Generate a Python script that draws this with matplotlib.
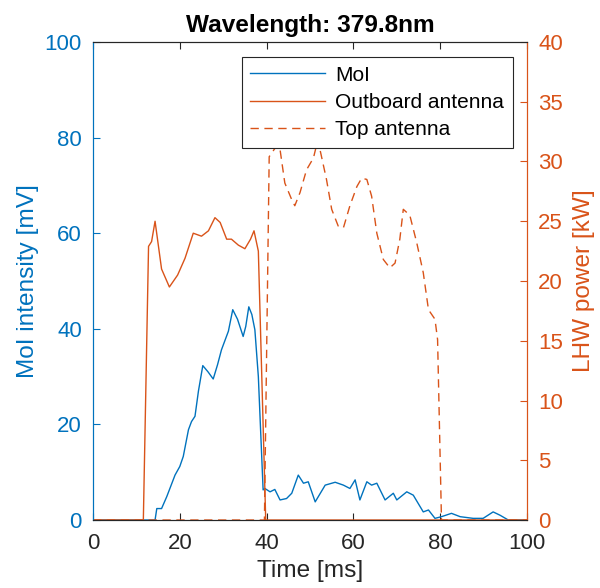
import matplotlib
matplotlib.use("Agg")
import matplotlib.pyplot as plt

plt.rcParams['font.family'] = ['Liberation Sans', 'DejaVu Sans']

# ---- data ----
moi_t = [0, 14.3, 14.7, 15.8, 17.0, 18.9, 20.0, 20.8, 22.0, 22.7, 23.5, 24.3, 25.3, 26.5,
         27.7, 28.7, 29.6, 31.2, 32.2, 33.3, 34.6, 35.2, 35.9, 36.6, 37.3, 38.1, 39.2,
         39.6, 40.8, 41.9, 43.1, 44.6, 45.8, 47.3, 48.5, 49.6, 51.2, 53.5, 55.8, 57.7,
         59.2, 60.4, 61.5, 63.1, 64.2, 65.4, 67.3, 69.2, 70.0, 72.3, 73.8, 76.1, 77.3,
         78.8, 80.3, 82.6, 84.6, 87.6, 89.9, 92.2, 93.8, 95.7, 100]
moi_v = [0, 0, 2.4, 2.4, 4.9, 9.4, 11.2, 13.3, 18.9, 20.6, 21.7, 27.0, 32.3, 31.0,
         29.5, 32.5, 35.6, 39.5, 44.0, 42.0, 38.4, 40.5, 44.6, 43.0, 39.8, 30.0, 6.3,
         6.6, 5.9, 6.4, 4.2, 4.5, 5.6, 9.4, 7.7, 8.0, 3.8, 7.3, 7.9, 7.3,
         6.6, 8.4, 4.2, 8.0, 7.3, 7.7, 4.2, 5.6, 4.2, 5.9, 5.2, 1.7, 2.1,
         0.35, 0.7, 1.4, 0.7, 0.35, 0.35, 1.7, 1.0, 0, 0]

out_t = [0, 11.6, 12.8, 13.5, 14.3, 15.8, 17.6, 19.5, 21.2, 23.1, 25.0, 26.6, 28.1,
         29.3, 30.8, 31.9, 33.5, 35.0, 36.3, 37.1, 38.1, 39.8, 100]
out_v = [0, 0, 22.9, 23.3, 25.0, 21.0, 19.5, 20.5, 21.9, 24.0, 23.75, 24.2, 25.3,
         24.9, 23.5, 23.5, 23.0, 22.7, 23.5, 24.2, 22.5, 0, 0]

top_t = [0, 39.5, 40.6, 42.3, 42.7, 43.1, 44.2, 45.8, 46.5, 47.7, 49.2, 50.8, 51.8,
         52.3, 53.8, 55.0, 56.5, 57.7, 59.2, 60.8, 61.9, 63.1, 64.2, 65.4, 66.9, 68.4,
         69.6, 70.7, 71.5, 73.0, 74.6, 76.1, 77.3, 78.8, 79.4, 80.3, 100]
top_v = [0, 0, 30.4, 31.3, 32.0, 31.0, 28.2, 26.8, 26.3, 27.4, 29.3, 30.3, 31.8,
         31.0, 28.5, 26.0, 24.6, 24.45, 26.3, 27.9, 28.6, 28.5, 27.1, 24.0, 21.8, 21.1,
         21.5, 23.5, 26.0, 25.5, 23.2, 20.7, 17.6, 16.8, 15.1, 0, 0]

x_ticks = [0, 20, 40, 60, 80, 100]
left_ticks = [0, 20, 40, 60, 80, 100]
right_ticks = [0, 5, 10, 15, 20, 25, 30, 35, 40]

blue = '#0072BD'
orange = '#D95319'
dark = '#262626'
fs_tick = 16
fs_lab = 17.6

fig = plt.figure(figsize=(6, 5.88), dpi=100)
ax = fig.add_axes([0.155, 0.1156, 0.7233, 0.813])
ax2 = ax.twinx()

l1, = ax.plot(moi_t, moi_v, color=blue, lw=1.0, label='MoI')
l2, = ax2.plot(out_t, out_v, color=orange, lw=1.0, label='Outboard antenna')
l3, = ax2.plot(top_t, top_v, color=orange, lw=1.0, ls=(0, (6, 4)), label='Top antenna')

ax.set_xlim(0, 100)
ax.set_ylim(0, 100)
ax2.set_ylim(0, 40)
ax.set_xticks(x_ticks)
ax.set_yticks(left_ticks)
ax2.set_yticks(right_ticks)

ax.tick_params(axis='x', direction='in', length=5, top=True, labelsize=fs_tick, colors=dark, pad=9)
ax.tick_params(axis='y', direction='in', length=5, labelsize=fs_tick, colors=blue, pad=8)
ax2.tick_params(axis='y', direction='in', length=5, labelsize=fs_tick, colors=orange, pad=8)

for a in (ax, ax2):
    a.spines['top'].set_color(dark)
    a.spines['bottom'].set_color(dark)
    a.spines['left'].set_color(blue)
    a.spines['right'].set_color(orange)

ax.set_xlabel('Time [ms]', fontsize=fs_lab, color=dark, labelpad=5)
ax.set_ylabel('MoI intensity [mV]', fontsize=fs_lab, color=blue, labelpad=4)
ax2.set_ylabel('LHW power [kW]', fontsize=fs_lab, color=orange, rotation=90, labelpad=7)
ax.set_title('Wavelength: 379.8nm', fontsize=fs_lab, fontweight='bold', pad=7)

leg = ax2.legend(handles=[l1, l2, l3], loc='upper right', bbox_to_anchor=(0.967, 0.968),
                 fontsize=15, frameon=True, fancybox=False, framealpha=1,
                 edgecolor=dark, handlelength=3.6, handletextpad=0.5,
                 borderpad=0.4, labelspacing=0.4, borderaxespad=0)
leg.get_frame().set_linewidth(0.8)

fig.savefig('out.png', dpi=100)
